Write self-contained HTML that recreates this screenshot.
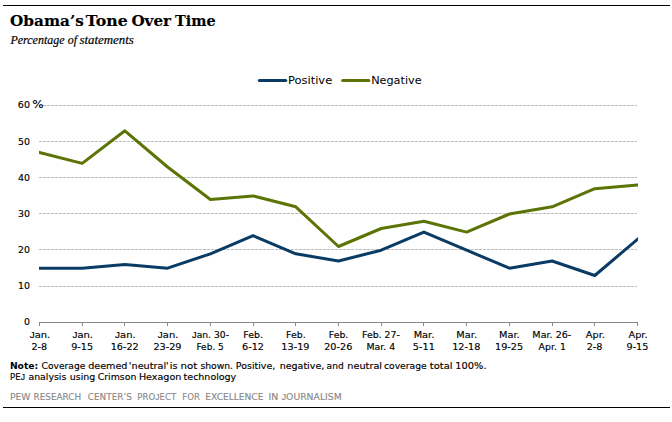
<!DOCTYPE html>
<html><head><meta charset="utf-8"><title>Obama's Tone Over Time</title>
<style>
html,body{margin:0;padding:0;background:#fff}
svg{display:block}
.t{font-family:'DejaVu Serif','Liberation Serif',serif;font-weight:bold;font-size:15.2px;fill:#000;stroke:#000;stroke-width:0.15px}
.s{font-family:'Liberation Serif','DejaVu Serif',serif;font-style:italic;font-size:13.2px;fill:#000;stroke:#000;stroke-width:0.2px}
.ax{stroke:#000;stroke-width:0.15px;font-family:'DejaVu Sans','Liberation Sans',sans-serif;font-size:9.4px;fill:#000}
.pc{stroke:#000;stroke-width:0.15px;font-family:'DejaVu Sans','Liberation Sans',sans-serif;font-size:11.2px;fill:#000}
.lg{font-family:'DejaVu Sans','Liberation Sans',sans-serif;font-size:10.7px;fill:#000}
.nt{stroke:#000;stroke-width:0.15px;font-family:'DejaVu Sans','Liberation Sans',sans-serif;font-size:9.3px;fill:#000}
.nb{font-family:'DejaVu Sans','Liberation Sans',sans-serif;font-size:9.3px;font-weight:bold;fill:#000}
.ft{font-family:'DejaVu Sans','Liberation Sans',sans-serif;font-size:8.9px;fill:#858585;stroke:#858585;stroke-width:0.1px}
.j{font-family:'Liberation Sans',sans-serif}

</style></head><body>
<svg xmlns="http://www.w3.org/2000/svg" width="672" height="422" viewBox="0 0 672 422">
<rect width="672" height="422" fill="#fff"/>
<rect x="3" y="5" width="667" height="1" fill="#000"/>
<rect x="3" y="407" width="667" height="1" fill="#000"/>
<line x1="259.4" x2="285.7" y1="80.5" y2="80.5" stroke="#0a3b64" stroke-width="3.2" stroke-linecap="round"/>
<line x1="342.7" x2="368.8" y1="80.5" y2="80.5" stroke="#5c7406" stroke-width="3.2" stroke-linecap="round"/>
<g stroke="#bdbdbd" stroke-width="1" stroke-dasharray="3 1" fill="none"><line x1="39" x2="637" y1="105.5" y2="105.5"/><line x1="39" x2="637" y1="141.5" y2="141.5"/><line x1="39" x2="637" y1="177.5" y2="177.5"/><line x1="39" x2="637" y1="213.5" y2="213.5"/><line x1="39" x2="637" y1="249.5" y2="249.5"/><line x1="39" x2="637" y1="286.5" y2="286.5"/></g>
<g stroke="#868686" stroke-width="1" fill="none"><line x1="39" x2="637.5" y1="322.5" y2="322.5"/><line x1="39.5" x2="39.5" y1="322" y2="326"/><line x1="82.5" x2="82.5" y1="322" y2="326"/><line x1="124.5" x2="124.5" y1="322" y2="326"/><line x1="167.5" x2="167.5" y1="322" y2="326"/><line x1="210.5" x2="210.5" y1="322" y2="326"/><line x1="253.5" x2="253.5" y1="322" y2="326"/><line x1="295.5" x2="295.5" y1="322" y2="326"/><line x1="338.5" x2="338.5" y1="322" y2="326"/><line x1="381.5" x2="381.5" y1="322" y2="326"/><line x1="423.5" x2="423.5" y1="322" y2="326"/><line x1="466.5" x2="466.5" y1="322" y2="326"/><line x1="509.5" x2="509.5" y1="322" y2="326"/><line x1="552.5" x2="552.5" y1="322" y2="326"/><line x1="594.5" x2="594.5" y1="322" y2="326"/><line x1="637.5" x2="637.5" y1="322" y2="326"/></g>
<clipPath id="pa"><rect x="39" y="90" width="599" height="240"/></clipPath>
<g clip-path="url(#pa)" fill="none" stroke-width="3" stroke-linejoin="round">
<polyline points="35.5,151.5 39.5,152.5 82.2,163.4 124.9,130.8 167.6,167.0 210.4,199.5 253.1,195.9 295.8,206.8 338.5,246.5 381.2,228.5 423.9,221.2 466.6,232.1 509.4,214.0 552.1,206.8 594.8,188.7 637.5,185.1 641.5,184.7" stroke="#5c7406"/>
<polyline points="35.5,268.2 39.5,268.2 82.2,268.2 124.9,264.6 167.6,268.2 210.4,253.8 253.1,235.7 295.8,253.8 338.5,261.0 381.2,250.2 423.9,232.1 466.6,250.2 509.4,268.2 552.1,261.0 594.8,275.5 637.5,239.3 641.5,235.9" stroke="#0a3b64"/>
</g>
<text class="t" transform="translate(10.07 25.9) scale(1.003 1)">Obama’s</text>
<text class="t" transform="translate(85.77 25.9) scale(1.037 1)">Tone</text>
<text class="t" transform="translate(131.38 25.9) scale(0.998 1)">Over</text>
<text class="t" transform="translate(175.08 25.9) scale(0.950 1)">Time</text>
<text class="s" transform="translate(10.51 43.7) scale(0.906 1)">Percentage</text>
<text class="s" transform="translate(67.78 43.7) scale(0.895 1)">of</text>
<text class="s" transform="translate(79.38 43.7) scale(0.976 1)">statements</text>
<text class="lg" transform="translate(287.92 84.1) scale(1.075 1)">Positive</text>
<text class="lg" transform="translate(371.15 84.1) scale(1.052 1)">Negative</text>
<text class="ax" transform="translate(17.87 108.0) scale(1.014 1)">60</text>
<text class="pc" transform="translate(32.36 108.0) scale(1.070 1)">%</text>
<text class="ax" transform="translate(18.02 145.0) scale(1.000 1)">50</text>
<text class="ax" transform="translate(18.02 181.0) scale(1.000 1)">40</text>
<text class="ax" transform="translate(18.02 217.0) scale(1.000 1)">30</text>
<text class="ax" transform="translate(18.02 253.0) scale(1.000 1)">20</text>
<text class="ax" transform="translate(18.02 289.0) scale(1.000 1)">10</text>
<text class="ax" transform="translate(24.02 325.0) scale(1.000 1)">0</text>
<text class="ax" transform="translate(29.70 338.0) scale(1.060 1)"><tspan class='j'>J</tspan>an.</text>
<text class="ax" transform="translate(31.38 349.9) scale(1.030 1)">2-8</text>
<text class="ax" transform="translate(72.41 338.0) scale(1.060 1)"><tspan class='j'>J</tspan>an.</text>
<text class="ax" transform="translate(71.20 349.9) scale(1.030 1)">9-15</text>
<text class="ax" transform="translate(115.12 338.0) scale(1.060 1)"><tspan class='j'>J</tspan>an.</text>
<text class="ax" transform="translate(110.63 349.9) scale(1.030 1)">16-22</text>
<text class="ax" transform="translate(157.84 338.0) scale(1.060 1)"><tspan class='j'>J</tspan>an.</text>
<text class="ax" transform="translate(153.41 349.9) scale(1.030 1)">23-29</text>
<text class="ax" transform="translate(192.04 338.0) scale(0.980 1)"><tspan class='j'>J</tspan>an. 30-</text>
<text class="ax" transform="translate(196.42 349.9) scale(0.960 1)">Feb. 5</text>
<text class="ax" transform="translate(243.32 338.0) scale(1.000 1)">Feb.</text>
<text class="ax" transform="translate(242.06 349.9) scale(1.030 1)">6-12</text>
<text class="ax" transform="translate(286.03 338.0) scale(1.000 1)">Feb.</text>
<text class="ax" transform="translate(281.36 349.9) scale(1.030 1)">13-19</text>
<text class="ax" transform="translate(328.75 338.0) scale(1.000 1)">Feb.</text>
<text class="ax" transform="translate(324.20 349.9) scale(1.030 1)">20-26</text>
<text class="ax" transform="translate(362.02 338.0) scale(1.000 1)">Feb. 27-</text>
<text class="ax" transform="translate(366.45 349.9) scale(1.000 1)">Mar. 4</text>
<text class="ax" transform="translate(413.66 338.0) scale(1.040 1)">Mar.</text>
<text class="ax" transform="translate(412.85 349.9) scale(1.030 1)">5-11</text>
<text class="ax" transform="translate(456.37 338.0) scale(1.040 1)">Mar.</text>
<text class="ax" transform="translate(452.21 349.9) scale(1.030 1)">12-18</text>
<text class="ax" transform="translate(499.08 338.0) scale(1.040 1)">Mar.</text>
<text class="ax" transform="translate(494.99 349.9) scale(1.030 1)">19-25</text>
<text class="ax" transform="translate(532.37 338.0) scale(1.020 1)">Mar. 26-</text>
<text class="ax" transform="translate(538.62 349.9) scale(1.000 1)">Apr. 1</text>
<text class="ax" transform="translate(585.75 338.0) scale(1.040 1)">Apr.</text>
<text class="ax" transform="translate(586.66 349.9) scale(1.030 1)">2-8</text>
<text class="ax" transform="translate(628.46 338.0) scale(1.040 1)">Apr.</text>
<text class="ax" transform="translate(626.48 349.9) scale(1.030 1)">9-15</text>
<text class="nt" transform="translate(41.61 369.0) scale(0.981 1)">Coverage</text>
<text class="nt" transform="translate(88.24 369.0) scale(1.030 1)">deemed</text>
<text class="nt" transform="translate(128.84 369.0) scale(1.042 1)">'neutral'</text>
<text class="nt" transform="translate(169.72 369.0) scale(1.040 1)">is</text>
<text class="nt" transform="translate(180.42 369.0) scale(1.103 1)">not</text>
<text class="nt" transform="translate(200.38 369.0) scale(0.995 1)">shown.</text>
<text class="nt" transform="translate(235.86 369.0) scale(1.014 1)">Positive,</text>
<text class="nt" transform="translate(279.63 369.0) scale(1.024 1)">negative,</text>
<text class="nt" transform="translate(326.61 369.0) scale(0.978 1)">and</text>
<text class="nt" transform="translate(347.32 369.0) scale(1.044 1)">neutral</text>
<text class="nt" transform="translate(384.01 369.0) scale(0.988 1)">coverage</text>
<text class="nt" transform="translate(429.87 369.0) scale(1.067 1)">total</text>
<text class="nt" transform="translate(455.34 369.0) scale(1.057 1)">100%.</text>
<text class="nb" transform="translate(9.88 369.0) scale(0.991 1)">Note:</text>
<text class="nt" transform="translate(10.09 379.9) scale(0.923 1)">PE<tspan class='j'>J</tspan></text>
<text class="nt" transform="translate(28.40 379.9) scale(1.010 1)">analysis</text>
<text class="nt" transform="translate(69.84 379.9) scale(1.016 1)">using</text>
<text class="nt" transform="translate(97.69 379.9) scale(1.010 1)">Crimson</text>
<text class="nt" transform="translate(138.90 379.9) scale(1.030 1)">Hexagon</text>
<text class="nt" transform="translate(183.62 379.9) scale(1.021 1)">technology</text>
<text class="ft" transform="translate(9.90 399.9) scale(1.032 1)">PEW</text>
<text class="ft" transform="translate(33.53 399.9) scale(0.998 1)">RESEARCH</text>
<text class="ft" transform="translate(87.80 399.9) scale(0.999 1)">CENTER’S</text>
<text class="ft" transform="translate(137.35 399.9) scale(0.966 1)">PRO<tspan class='j'>J</tspan>ECT</text>
<text class="ft" transform="translate(182.20 399.9) scale(0.969 1)">FOR</text>
<text class="ft" transform="translate(205.36 399.9) scale(1.021 1)">EXCELLENCE</text>
<text class="ft" transform="translate(268.38 399.9) scale(1.053 1)">IN</text>
<text class="ft" transform="translate(281.47 399.9) scale(1.042 1)"><tspan class='j'>J</tspan>OURNALISM</text>
</svg>
</body></html>
